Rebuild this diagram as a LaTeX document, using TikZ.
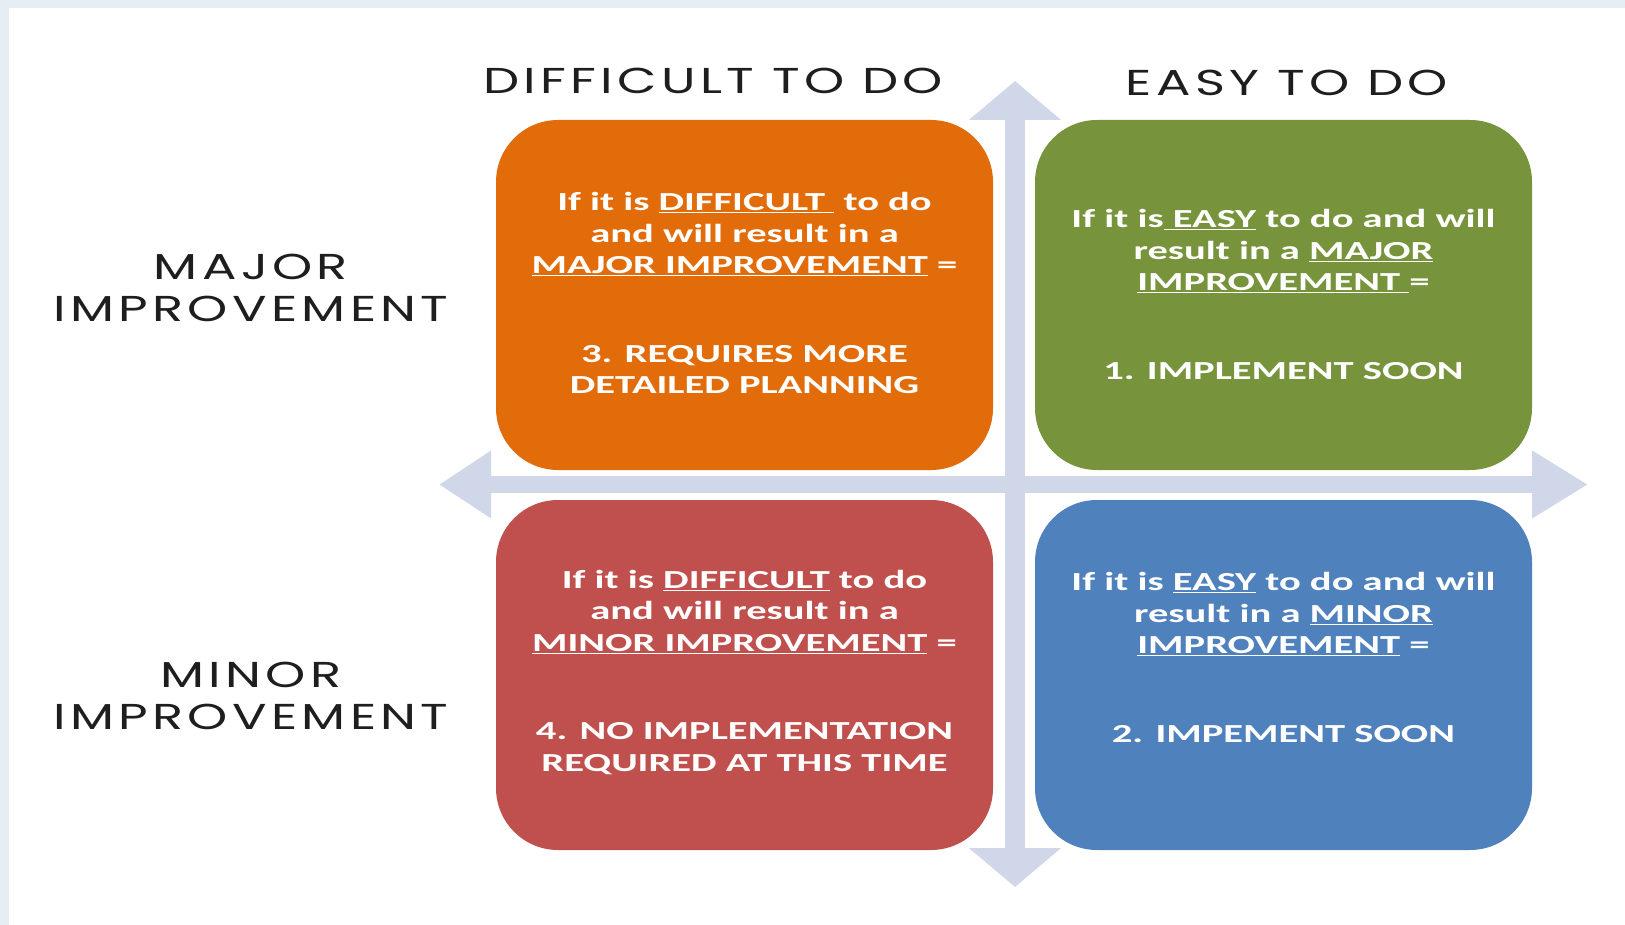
\documentclass[tikz,border=0pt]{standalone}
\usepackage{fontspec}
\setmainfont{Carlito}
\newfontfamily\boxfont[FakeStretch=1.56]{Carlito}
\newfontfamily\axisfont[FakeStretch=1.42,LetterSpace=12]{Poppins}
\usetikzlibrary{arrows.meta}
\definecolor{hardmajor}{RGB}{227,108,10}
\definecolor{easymajor}{RGB}{119,147,60}
\definecolor{hardminor}{RGB}{192,80,77}
\definecolor{easyminor}{RGB}{79,129,189}
\definecolor{axisgray}{RGB}{208,215,232}
\definecolor{framegray}{RGB}{230,237,245}
\definecolor{labelink}{RGB}{30,30,30}

\begin{document}
\begin{tikzpicture}[
  x=1pt, y=-1pt,
  quadrant/.style={
    rectangle, rounded corners=62pt, draw=none,
    minimum width=497pt, minimum height=350pt, inner sep=0pt
  },
  boxtext/.style={
    text=white, align=center, inner sep=0pt,
    font=\boxfont\fontsize{26}{31.5}\selectfont\bfseries
  },
  axislabel/.style={
    text=labelink, align=center, inner sep=0pt,
    font=\axisfont\fontsize{36}{42}\selectfont
  },
  axisline/.style={axisgray, line width=#1}
]

% =====================================================================
% Page and frame
% =====================================================================
\useasboundingbox (0,0) rectangle (1625,925);
\fill[white] (0,0) rectangle (1625,925);
\fill[framegray] (0,0) rectangle (1625,8);
\fill[framegray] (0,0) rectangle (9,925);

% =====================================================================
% Axes
% =====================================================================
\coordinate (west)  at (439,484.5);
\coordinate (east)  at (1588,484.5);
\coordinate (north) at (1015,81);
\coordinate (south) at (1015,887);

\draw[axisline=17pt, {Triangle[length=52pt,width=64pt]}-{Triangle[length=56pt,width=64pt]}]
  (west) -- (east);
\draw[axisline=20pt, {Triangle[length=39pt,width=90pt]}-{Triangle[length=39pt,width=90pt]}]
  (north) -- (south);

% =====================================================================
% Quadrants
% =====================================================================
\node[quadrant, fill=hardmajor] (HardMajor) at (744.5,295)  {};
\node[quadrant, fill=easymajor] (EasyMajor) at (1283.5,295) {};
\node[quadrant, fill=hardminor] (HardMinor) at (744.5,675)  {};
\node[quadrant, fill=easyminor] (EasyMinor) at (1283.5,675) {};

\node[boxtext] (HardMajorText) at (744.5,293)
  {If it is \underline{DIFFICULT\ }\ to do\\and will result in a\\
   \underline{MAJOR IMPROVEMENT} =\\[57pt]3. REQUIRES MORE\\DETAILED PLANNING};
\node[boxtext] (EasyMajorText) at (1283.5,294.5)
  {If it is\underline{\ EASY} to do and will\\result in a \underline{MAJOR}\\
   \underline{IMPROVEMENT\ }=\\[57pt]1. IMPLEMENT SOON};
\node[boxtext] (HardMinorText) at (744.5,672.5)
  {If it is \underline{DIFFICULT} to do\\and will result in a\\
   \underline{MINOR IMPROVEMENT} =\\[57pt]4. NO IMPLEMENTATION\\REQUIRED AT THIS TIME};
\node[boxtext] (EasyMinorText) at (1283.5,657.5)
  {If it is \underline{EASY} to do and will\\result in a \underline{MINOR}\\
   \underline{IMPROVEMENT} =\\[57pt]2. IMPEMENT SOON};

% =====================================================================
% Axis labels
% =====================================================================
\node[axislabel] (Difficult) at (713,81)  {DIFFICULT TO DO};
\node[axislabel] (Easy)      at (1287,83) {EASY TO DO};
\node[axislabel] (Major)     at (251,288) {MAJOR\\IMPROVEMENT};
\node[axislabel] (Minor)     at (251,696) {MINOR\\IMPROVEMENT};

\end{tikzpicture}
\end{document}
